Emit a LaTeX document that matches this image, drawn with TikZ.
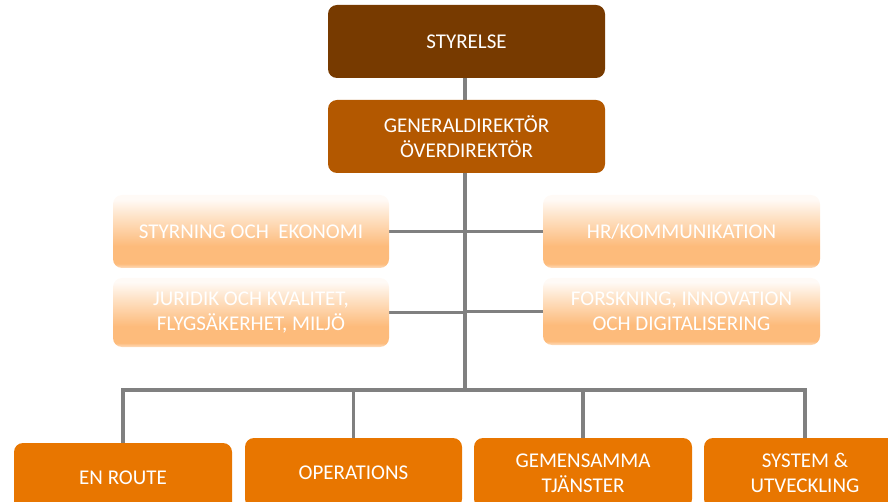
\documentclass[tikz,border=0pt]{standalone}
\usepackage{fontspec}
\setmainfont{Carlito}
\usetikzlibrary{backgrounds}
\definecolor{boardcol}{HTML}{773A00}
\definecolor{gdcol}{HTML}{B35800}
\definecolor{divcol}{HTML}{E87600}
\definecolor{linecol}{HTML}{808080}
\definecolor{fadebot}{HTML}{FEDCBC}
\definecolor{fadedeep}{HTML}{FDBB7B}
\definecolor{fademid}{HTML}{FEE2C6}
\definecolor{fadetop}{HTML}{FFFAF6}
\pgfdeclareverticalshading{fadeshade}{100bp}{color(0bp)=(fadebot); color(25bp)=(fadebot); color(28bp)=(fadedeep); color(40bp)=(fadedeep); color(60bp)=(fademid); color(72bp)=(fadetop); color(100bp)=(fadetop)}
\tikzset{
  box/.style={rounded corners=9pt, text=white, align=center, inner sep=0pt,
    font=\fontsize{21}{25}\selectfont},
  solidbox/.style={box, fill=#1},
  fadebox/.style={box, shading=fadeshade},
  conn/.style={draw=linecol, line width=3.5pt},
}
\begin{document}
\begin{tikzpicture}[x=1pt, y=-1pt]
\useasboundingbox (0,0) rectangle (888,502);
\clip (0,0) rectangle (888,502);
\node[solidbox=boardcol, minimum width=277pt, minimum height=73pt] (board) at (466.5,41.5) {STYRELSE};
\node[solidbox=gdcol, minimum width=277pt, minimum height=73pt] (gd) at (466.5,136.5) {GENERALDIREKTÖR\\ÖVERDIREKTÖR};
\node[fadebox, minimum width=276pt, minimum height=73pt] (eco) at (251,231.5) {STYRNING OCH\ \ EKONOMI};
\node[fadebox, minimum width=276pt, minimum height=69pt] (jur) at (251,312.5) {JURIDIK OCH KVALITET,\\FLYGSÄKERHET, MILJÖ};
\node[fadebox, minimum width=277pt, minimum height=73pt] (hr) at (681.5,231.5) {HR/KOMMUNIKATION};
\node[fadebox, minimum width=277pt, minimum height=67pt] (fou) at (681.5,311.5) {FORSKNING, INNOVATION\\OCH DIGITALISERING};
\node[solidbox=divcol, minimum width=218pt, minimum height=70pt] (enr) at (123,478) {EN ROUTE};
\node[solidbox=divcol, minimum width=217pt, minimum height=70pt] (ops) at (353.5,473) {OPERATIONS};
\node[solidbox=divcol, minimum width=218pt, minimum height=70pt] (gem) at (583,473) {GEMENSAMMA\\TJÄNSTER};
\node[solidbox=divcol, minimum width=202pt, minimum height=70pt] (sys) at (805,473) {SYSTEM \&\\UTVECKLING};
\coordinate (hub) at (465,390);
\begin{scope}[on background layer]
  \draw[conn] (board.south -| hub) -- (gd.north -| hub);
  \draw[conn] (gd.south -| hub) -- (hub);
  \draw[conn] (eco.east) -- (eco.east -| hub);
  \draw[conn] (jur.east) -- (jur.east -| hub);
  \draw[conn] (hr.west) -- (hr.west -| hub);
  \draw[conn] (fou.west) -- (fou.west -| hub);
  \draw[conn] (enr.north) -- (enr.north |- hub) -- (sys.north |- hub) -- (sys.north);
  \draw[conn] (ops.north) -- (ops.north |- hub);
  \draw[conn] (gem.north) -- (gem.north |- hub);
\end{scope}
\end{tikzpicture}
\end{document}
